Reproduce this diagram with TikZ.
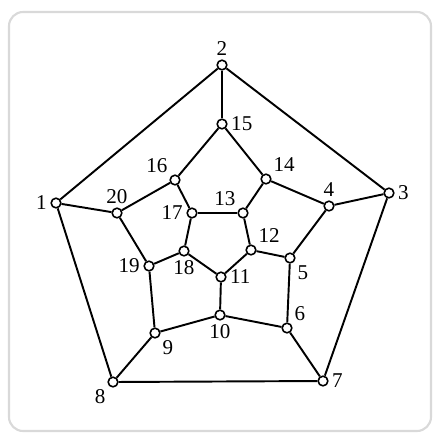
\documentclass[tikz,border=0pt]{standalone}
\usepackage{fontspec}
\setmainfont{Liberation Serif}
\begin{document}
\begin{tikzpicture}[x=0.02cm, y=-0.02cm, line width=1.1pt,
  vtx/.style={circle, draw, fill=white, inner sep=0pt, minimum size=5.5pt, line width=0.9pt},
  lbl/.style={inner sep=1.5pt, font=\fontsize{12}{14}\selectfont}]
  % frame of the page
  \useasboundingbox (0,0) rectangle (433,434);
  \draw[black!15, line width=1.2pt, rounded corners=8pt] (9,12) rectangle (431,431);

  % the twenty vertices: number / x / y / label side
  \foreach \n/\x/\y/\pos in {1/56/203/left, 2/222/65/above, 3/389/193/right,
      4/329/206/above, 5/290/258/below right, 6/287/328/above right,
      7/323/381/right, 8/113/382/below left, 9/155/333/below right,
      10/220/315/below, 11/221/277/right, 12/251/250/above right,
      13/243/213/above left, 14/266/179/above right, 15/222/124/right,
      16/175/180/above left, 17/192/213/left, 18/184/251/below,
      19/149/266/left, 20/117/213/above} {
    \node[vtx, label={[lbl]\pos:\n}] (v\n) at (\x,\y) {};
  }

  % edges of the dodecahedron
  \foreach \a/\b in {1/2, 2/3, 3/7, 7/8, 8/1,
      2/15, 3/4, 7/6, 8/9, 1/20,
      15/16, 16/20, 20/19, 19/9, 9/10, 10/6, 6/5, 5/4, 4/14, 14/15,
      16/17, 19/18, 10/11, 5/12, 14/13,
      17/13, 13/12, 12/11, 11/18, 18/17} {
    \draw (v\a) -- (v\b);
  }
\end{tikzpicture}
\end{document}
